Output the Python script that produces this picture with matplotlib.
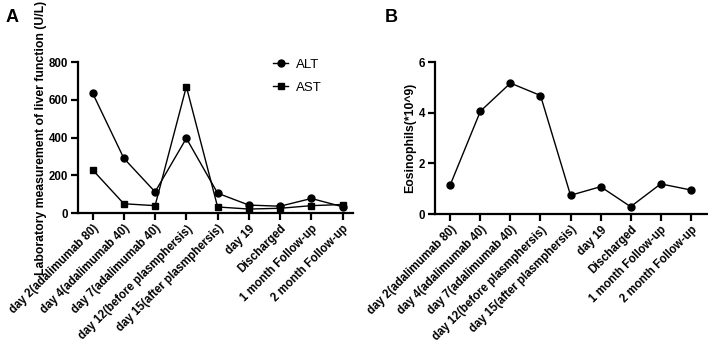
import numpy as np
import matplotlib
matplotlib.use("Agg")
import matplotlib.pyplot as plt

plt.rcParams['font.family'] = ['Liberation Sans', 'DejaVu Sans']

# data
days = ["day 2(adalimumab 80)", "day 4(adalimumab 40)", "day 7(adalimumab 40)",
        "day 12(before plasmphersis)", "day 15(after plasmphersis)", "day 19",
        "Discharged", "1 month Follow-up", "2 month Follow-up"]
alt = [636, 290, 112, 396, 105, 42, 36, 77, 33]
ast = [229, 49, 39, 670, 32, 21, 25, 39, 45]
eos = [1.16, 4.06, 5.17, 4.68, 0.74, 1.08, 0.29, 1.19, 0.95]

fig = plt.figure(figsize=(7.08, 3.43), dpi=100)
axA = fig.add_axes([0.110, 0.379, 0.389, 0.440])
axB = fig.add_axes([0.614, 0.376, 0.385, 0.443])

x = np.arange(len(days))

def style(ax):
    for s in ['top', 'right']:
        ax.spines[s].set_visible(False)
    for s in ['left', 'bottom']:
        ax.spines[s].set_linewidth(1.6)
    ax.tick_params(width=1.6, length=5, labelsize=8.3, pad=2)
    ax.set_xticks(x)
    ax.set_xticklabels(days, rotation=45, ha='right', rotation_mode='anchor',
                       fontweight='bold')
    for t in ax.get_yticklabels():
        t.set_fontweight('bold')

# panel A
axA.plot(x, alt, 'k-o', lw=1, ms=5, label='ALT')
axA.plot(x, ast, 'k-s', lw=1, ms=5, label='AST')
axA.set_ylim(0, 800)
axA.set_xlim(-0.47, 8.34)
axA.set_yticks([0, 200, 400, 600, 800])
style(axA)
axA.set_ylabel("Laboratory measurement of liver function (U/L)",
               fontsize=8.8, fontweight='bold', labelpad=1)
axA.legend(loc='upper right', bbox_to_anchor=(0.93, 1.10), frameon=False,
           fontsize=9.5, handlelength=1.2, handletextpad=0.6, labelspacing=0.8)

# panel B
axB.plot(x, eos, 'k-o', lw=1, ms=5)
axB.set_ylim(0, 6)
axB.set_xlim(-0.52, 8.55)
axB.set_yticks([0, 2, 4, 6])
style(axB)
axB.set_ylabel("Eosinophils(*10^9)", fontsize=8.8, fontweight='bold', labelpad=2)

fig.text(0.008, 0.975, "A", fontsize=13, fontweight='bold', va='top')
fig.text(0.543, 0.975, "B", fontsize=13, fontweight='bold', va='top')

fig.savefig("out.png", dpi=100)
